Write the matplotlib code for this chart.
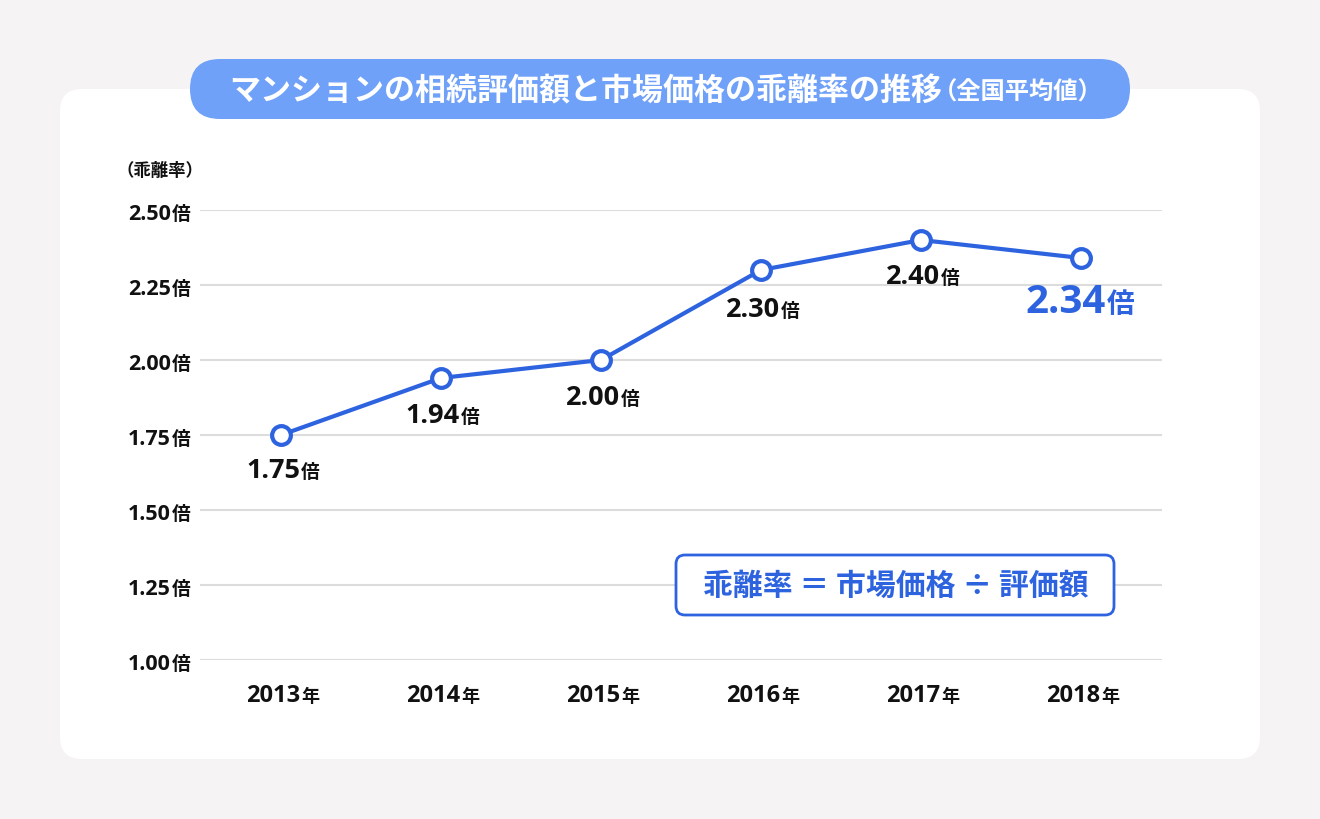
import matplotlib
matplotlib.use('Agg')
import matplotlib.pyplot as plt
from matplotlib.patches import FancyBboxPatch
import matplotlib.transforms as mtransforms

# ---- data ----
years = ['2013', '2014', '2015', '2016', '2017', '2018']
ratios = [1.75, 1.94, 2.00, 2.30, 2.40, 2.34]
ratio_labels = ['1.75', '1.94', '2.00', '2.30', '2.40', '2.34']
ytick_values = [1.00, 1.25, 1.50, 1.75, 2.00, 2.25, 2.50]
ytick_labels = ['1.00', '1.25', '1.50', '1.75', '2.00', '2.25', '2.50']
title_main = 'マンションの相続評価額と市場価格の乖離率の推移'
title_sub = '（全国平均値）'
y_unit_label = '（乖離率）'
formula = '乖離率 ＝ 市場価格 ÷ 評価額'
unit = '倍'
year_suffix = '年'

# ---- style ----
BLUE = '#2e63e0'
PILL = '#70a1f8'
BG = '#f5f3f4'
GRID = '#dcdcdc'
TXT = '#111111'
LAT = 'Open Sans'
CJK = 'Noto Sans CJK JP'
label_drop_px = [42, 44, 44, 46, 43, 54]   # baseline offset below each point

W, H = 1320, 820
fig = plt.figure(figsize=(W / 100, H / 100), dpi=100)
fig.patch.set_facecolor(BG)

bg = fig.add_axes([0, 0, 1, 1], zorder=0)
bg.set_xlim(0, W); bg.set_ylim(H, 0); bg.axis('off')
bg.add_patch(FancyBboxPatch((60, 90), 1200, 670, boxstyle='round,pad=0,rounding_size=22',
                            fc='white', ec='none'))

ax = fig.add_axes([200 / W, (H - 661) / H, 962 / W, 450 / H], zorder=1)
ax.set_facecolor('none')
x = list(range(len(years)))
ax.set_xlim(-81 / 160, len(years) - 1 + 81 / 160)
ax.set_ylim(ytick_values[0], ytick_values[-1])
for s in ax.spines.values():
    s.set_visible(False)
ax.set_yticks(ytick_values)
ax.set_xticks(x)
ax.grid(axis='y', color=GRID, lw=1.5)
ax.grid(axis='x', visible=False)
ax.tick_params(length=0, labelleft=False, labelbottom=False)
ax.set_axisbelow(True)

ax.plot(x, ratios, color=BLUE, lw=3, marker='o', ms=13.5, mfc='white', mec=BLUE, mew=3,
        clip_on=False, zorder=5, solid_joinstyle='round')


def split_text(xv, yv, num, suf, xtr, ytr, split_px, dy_px, nsize, ssize, color, gap=1):
    base = mtransforms.blended_transform_factory(xtr, ytr)
    tr = base + mtransforms.ScaledTranslation(split_px / 100, -dy_px / 100, fig.dpi_scale_trans)
    ax.text(xv, yv, num, transform=tr, ha='right', va='baseline', fontsize=nsize,
            fontweight='bold', family=LAT, color=color, clip_on=False, zorder=6)
    ax.text(xv, yv, suf, transform=tr + mtransforms.ScaledTranslation(gap / 100, 0, fig.dpi_scale_trans),
            ha='left', va='baseline', fontsize=ssize,
            fontweight='bold', family=CJK, color=color, clip_on=False, zorder=6)


# y tick labels
for v, lab in zip(ytick_values, ytick_labels):
    split_text(171, v, lab, unit, bg.transData, ax.transData, 0, 9, 15.5, 13.5, TXT)

# x tick labels
for xi, yr in zip(x, years):
    split_text(xi, 702, yr, year_suffix, ax.transData, bg.transData, 19, 0, 17, 13, TXT)

# data labels
for i, (xi, v, lab) in enumerate(zip(x, ratios, ratio_labels)):
    last = i == len(x) - 1
    if last:
        split_text(xi, v, lab, unit, ax.transData, ax.transData, 25, label_drop_px[i], 29, 20, BLUE)
    else:
        split_text(xi, v, lab, unit, ax.transData, ax.transData, 19, label_drop_px[i], 19.5, 13.5, TXT)

# unit label
bg.text(160, 171, y_unit_label, ha='center', va='center', fontsize=12.5, fontweight='bold',
        family=CJK, color=TXT)

# title pill
bg.add_patch(FancyBboxPatch((190, 60), 940, 60, boxstyle='round,pad=0,rounding_size=30',
                            fc=PILL, ec='none'))
bg.text(942, 91, title_main, ha='right', va='center', fontsize=22.3, fontweight='bold',
        family=CJK, color='white')
bg.text(933, 93, title_sub, ha='left', va='center', fontsize=17.5, fontweight='bold',
        family=CJK, color='white')

# formula box (overlay above grid)
ov = fig.add_axes([0, 0, 1, 1], zorder=3)
ov.set_xlim(0, W); ov.set_ylim(H, 0); ov.axis('off')
ov.patch.set_visible(False)
ov.add_patch(FancyBboxPatch((676, 556), 438, 60, boxstyle='round,pad=0,rounding_size=9',
                            fc='white', ec=BLUE, lw=2))
ov.text(896, 586, formula, ha='center', va='center', fontsize=21.5, fontweight='bold',
        family=CJK, color=BLUE)

fig.savefig('out.png', dpi=100, facecolor=BG)
